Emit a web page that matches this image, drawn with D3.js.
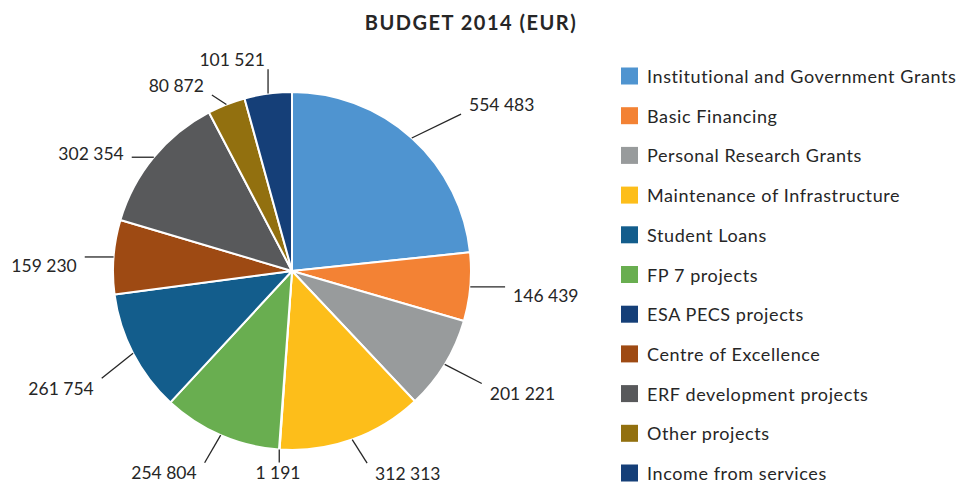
<!DOCTYPE html>
<html>
<head>
<meta charset="utf-8">
<script src="https://cdn.jsdelivr.net/npm/d3@7"></script>
<style>
  html, body { margin: 0; padding: 0; background: #fff; }
  svg { display: block; }
  text { font-family: Lato, "Open Sans", sans-serif; fill: #262626; }
</style>
</head>
<body>
<svg id="chart" width="958" height="488"></svg>
<script>
// ---- data (slice order, clockwise from 12 o'clock) ----
const sliceCategories = [
  "Institutional and Government Grants",
  "Basic Financing",
  "Personal Research Grants",
  "Maintenance of Infrastructure",
  "ESA PECS projects",
  "FP 7 projects",
  "Student Loans",
  "Centre of Excellence",
  "ERF development projects",
  "Other projects",
  "Income from services"
];
const sliceValues = [554483, 146439, 201221, 312313, 1191, 254804, 261754, 159230, 302354, 80872, 101521];

// ---- legend order ----
const legendCategories = [
  "Institutional and Government Grants",
  "Basic Financing",
  "Personal Research Grants",
  "Maintenance of Infrastructure",
  "Student Loans",
  "FP 7 projects",
  "ESA PECS projects",
  "Centre of Excellence",
  "ERF development projects",
  "Other projects",
  "Income from services"
];
const legendColors = [
  "#4f94d0", "#f38234", "#989b9c", "#fdbe1a", "#135d8c", "#69ae50",
  "#153f78", "#9e4a13", "#58595b", "#92700f", "#153f78"
];

const title = "BUDGET 2014 (EUR)";

// ---- layout (label centre as [angle deg clockwise from top, distance from pie centre]) ----
const labelPolar = [
  [51.5, 268], [95.6, 255], [118, 261], [150.2, 233], [184, 202], [212.4, 239],
  [243.1, 259], [271.2, 248], [300.4, 233], [328.1, 219], [344.2, 220]
];

const svg = d3.select("#chart");
const cx = 292, cy = 271, R = 179;
const fontSize = 17;

const color = d3.scaleOrdinal().domain(legendCategories).range(legendColors);
const locale = d3.formatLocale({ decimal: ",", thousands: " ", grouping: [3], currency: ["", ""] });
const fmt = locale.format(",d");

svg.append("text")
  .attr("x", 471).attr("y", 30)
  .attr("text-anchor", "middle")
  .style("font-weight", "bold")
  .style("font-size", "20px")
  .style("letter-spacing", "1.5px")
  .text(title);

const data = sliceCategories.map((c, i) => ({ cat: c, value: sliceValues[i], i }));
const pie = d3.pie().value(d => d.value).sort(null);
const arcs = pie(data);
const arc = d3.arc().innerRadius(0).outerRadius(R);

const g = svg.append("g").attr("transform", `translate(${cx},${cy})`);
g.selectAll("path.slice").data(arcs).enter().append("path")
  .attr("class", "slice")
  .attr("d", arc)
  .attr("fill", d => color(d.data.cat))
  .attr("stroke", "#fff")
  .attr("stroke-width", 2)
  .attr("stroke-linejoin", "round");

// labels
const lblG = g.append("g");
arcs.forEach((a, i) => {
  const [ang, dist] = labelPolar[i];
  const t = ang * Math.PI / 180;
  const lx = dist * Math.sin(t), ly = -dist * Math.cos(t);
  const txt = lblG.append("text")
    .attr("x", lx).attr("y", ly)
    .attr("text-anchor", "middle")
    .attr("dominant-baseline", "central")
    .style("font-size", "17.5px")
    .text(fmt(a.data.value));
  const bb = txt.node().getBBox();
  const padX = 8, padY = 2;
  const x0 = lx - bb.width / 2 - padX, x1 = lx + bb.width / 2 + padX;
  const y0 = ly - 8 - padY, y1 = ly + 8 + padY;
  const mid = (a.startAngle + a.endAngle) / 2;
  const ex = R * Math.sin(mid), ey = -R * Math.cos(mid);
  const nx = Math.max(x0, Math.min(x1, ex));
  const ny = Math.max(y0, Math.min(y1, ey));
  lblG.append("line")
    .attr("x1", ex).attr("y1", ey).attr("x2", nx).attr("y2", ny)
    .attr("stroke", "#262626").attr("stroke-width", 1.3);
});

// legend
const leg = svg.append("g").attr("transform", "translate(621,76)");
legendCategories.forEach((c, i) => {
  const row = leg.append("g").attr("transform", `translate(0,${i * 39.7})`);
  row.append("rect").attr("x", 0).attr("y", -8.5).attr("width", 17).attr("height", 17)
    .attr("fill", color(c));
  row.append("text").attr("x", 26).attr("y", 0)
    .attr("dominant-baseline", "central")
    .style("font-size", "18px")
    .style("letter-spacing", "0.6px")
    .text(c);
});
</script>
</body>
</html>
